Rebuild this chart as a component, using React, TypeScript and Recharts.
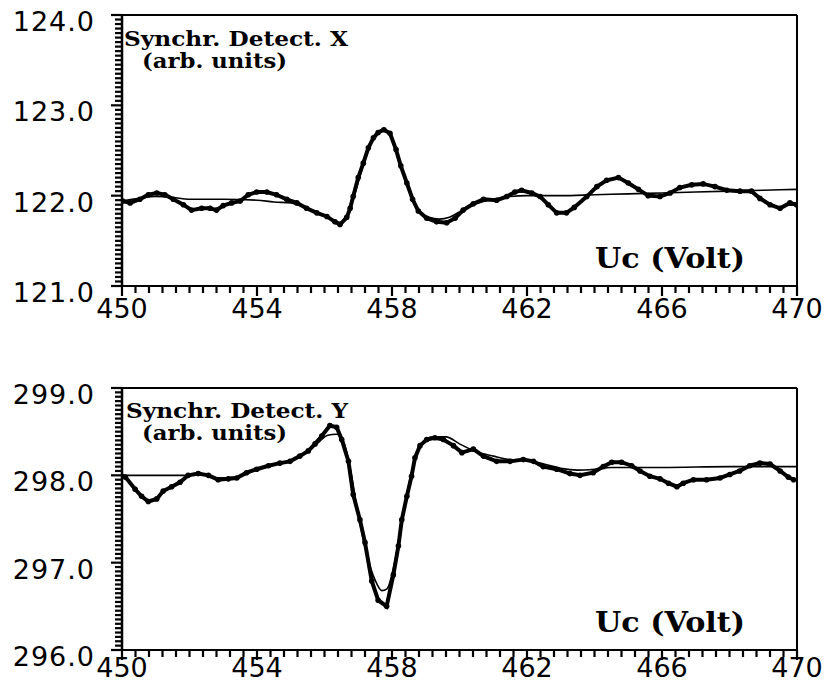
import { LineChart, Line, XAxis, YAxis, ReferenceLine } from 'recharts';

// tick labels
const VOLT_MAJOR = [450, 454, 458, 462, 466, 470];
const X_MAJOR = [121, 122, 123, 124];
const Y_MAJOR = [296, 297, 298, 299];

// Synchr. Detect. X, measured points (Uc in volt, signal)
const xMeasured = [
  { u: 450.02, v: 121.94 }, { u: 450.24, v: 121.92 }, { u: 450.53, v: 121.96 },
  { u: 450.78, v: 122.01 }, { u: 451.03, v: 122.03 }, { u: 451.27, v: 122.01 },
  { u: 451.52, v: 121.96 }, { u: 451.82, v: 121.9 }, { u: 452.06, v: 121.84 },
  { u: 452.36, v: 121.86 }, { u: 452.61, v: 121.86 }, { u: 452.8, v: 121.84 },
  { u: 453.0, v: 121.89 }, { u: 453.25, v: 121.92 }, { u: 453.5, v: 121.94 },
  { u: 453.74, v: 122.01 }, { u: 453.99, v: 122.04 }, { u: 454.29, v: 122.04 },
  { u: 454.58, v: 122.01 }, { u: 454.88, v: 121.96 }, { u: 455.18, v: 121.92 },
  { u: 455.47, v: 121.86 }, { u: 455.77, v: 121.81 }, { u: 456.07, v: 121.77 },
  { u: 456.31, v: 121.71 }, { u: 456.46, v: 121.68 }, { u: 456.66, v: 121.76 },
  { u: 456.76, v: 121.86 }, { u: 456.85, v: 121.99 }, { u: 457.0, v: 122.2 },
  { u: 457.15, v: 122.36 }, { u: 457.3, v: 122.53 }, { u: 457.45, v: 122.64 },
  { u: 457.59, v: 122.7 }, { u: 457.76, v: 122.73 }, { u: 457.94, v: 122.69 },
  { u: 458.12, v: 122.51 }, { u: 458.26, v: 122.33 }, { u: 458.44, v: 122.14 },
  { u: 458.61, v: 121.96 }, { u: 458.78, v: 121.83 }, { u: 459.03, v: 121.75 },
  { u: 459.32, v: 121.71 }, { u: 459.62, v: 121.7 }, { u: 459.87, v: 121.75 },
  { u: 460.11, v: 121.84 }, { u: 460.41, v: 121.91 }, { u: 460.71, v: 121.96 },
  { u: 461.1, v: 121.95 }, { u: 461.4, v: 121.99 }, { u: 461.64, v: 122.04 },
  { u: 461.84, v: 122.06 }, { u: 462.14, v: 122.03 }, { u: 462.39, v: 121.99 },
  { u: 462.63, v: 121.9 }, { u: 462.88, v: 121.81 }, { u: 463.17, v: 121.81 },
  { u: 463.4, v: 121.87 }, { u: 463.77, v: 121.99 }, { u: 464.07, v: 122.1 },
  { u: 464.36, v: 122.17 }, { u: 464.71, v: 122.2 }, { u: 465.0, v: 122.14 },
  { u: 465.3, v: 122.07 }, { u: 465.59, v: 122.0 }, { u: 465.94, v: 121.99 },
  { u: 466.24, v: 122.03 }, { u: 466.53, v: 122.09 }, { u: 466.88, v: 122.12 },
  { u: 467.22, v: 122.13 }, { u: 467.57, v: 122.1 }, { u: 467.92, v: 122.06 },
  { u: 468.31, v: 122.05 }, { u: 468.65, v: 122.05 }, { u: 468.9, v: 121.97 },
  { u: 469.2, v: 121.9 }, { u: 469.5, v: 121.86 }, { u: 469.79, v: 121.92 },
  { u: 469.99, v: 121.9 },
];

// Synchr. Detect. X, fitted curve
const xFit = [
  { u: 450, v: 121.94 }, { u: 450.5, v: 121.97 }, { u: 451, v: 121.99 },
  { u: 451.5, v: 121.98 }, { u: 452, v: 121.96 }, { u: 453, v: 121.96 },
  { u: 454, v: 121.95 }, { u: 454.5, v: 121.93 }, { u: 455, v: 121.92 },
  { u: 455.5, v: 121.86 }, { u: 456, v: 121.78 }, { u: 456.3, v: 121.72 },
  { u: 456.5, v: 121.7 }, { u: 456.7, v: 121.8 }, { u: 456.9, v: 122.02 },
  { u: 457.1, v: 122.28 }, { u: 457.3, v: 122.52 }, { u: 457.5, v: 122.67 },
  { u: 457.75, v: 122.73 }, { u: 458.0, v: 122.64 }, { u: 458.2, v: 122.42 },
  { u: 458.4, v: 122.18 }, { u: 458.6, v: 121.97 }, { u: 458.8, v: 121.84 },
  { u: 459.1, v: 121.76 }, { u: 459.4, v: 121.74 }, { u: 459.7, v: 121.76 },
  { u: 460.0, v: 121.82 }, { u: 460.5, v: 121.91 }, { u: 461, v: 121.96 },
  { u: 461.5, v: 121.99 }, { u: 462, v: 122.0 }, { u: 463, v: 122.0 },
  { u: 464, v: 122.01 }, { u: 465, v: 122.02 }, { u: 466, v: 122.03 },
  { u: 467, v: 122.04 }, { u: 468, v: 122.05 }, { u: 469, v: 122.06 },
  { u: 470, v: 122.07 },
];

// Synchr. Detect. Y, measured points
const yMeasured = [
  { u: 450.0, v: 297.99 }, { u: 450.1, v: 297.98 }, { u: 450.39, v: 297.84 },
  { u: 450.58, v: 297.76 }, { u: 450.78, v: 297.7 }, { u: 451.03, v: 297.73 },
  { u: 451.22, v: 297.82 }, { u: 451.47, v: 297.87 }, { u: 451.72, v: 297.92 },
  { u: 451.96, v: 298.0 }, { u: 452.26, v: 298.02 }, { u: 452.56, v: 298.0 },
  { u: 452.85, v: 297.95 }, { u: 453.15, v: 297.96 }, { u: 453.4, v: 297.97 },
  { u: 453.69, v: 298.03 }, { u: 453.99, v: 298.07 }, { u: 454.34, v: 298.11 },
  { u: 454.68, v: 298.14 }, { u: 454.98, v: 298.16 }, { u: 455.27, v: 298.22 },
  { u: 455.52, v: 298.28 }, { u: 455.72, v: 298.36 }, { u: 455.92, v: 298.45 },
  { u: 456.16, v: 298.57 }, { u: 456.36, v: 298.55 }, { u: 456.51, v: 298.41 },
  { u: 456.71, v: 298.16 }, { u: 456.85, v: 297.78 }, { u: 457.05, v: 297.49 },
  { u: 457.2, v: 297.23 }, { u: 457.4, v: 296.79 }, { u: 457.59, v: 296.57 },
  { u: 457.84, v: 296.5 }, { u: 458.04, v: 296.86 }, { u: 458.19, v: 297.19 },
  { u: 458.29, v: 297.49 }, { u: 458.44, v: 297.76 }, { u: 458.58, v: 297.99 },
  { u: 458.68, v: 298.2 }, { u: 458.83, v: 298.34 }, { u: 459.03, v: 298.41 },
  { u: 459.27, v: 298.43 }, { u: 459.52, v: 298.41 }, { u: 459.82, v: 298.34 },
  { u: 460.07, v: 298.26 }, { u: 460.41, v: 298.3 }, { u: 460.71, v: 298.22 },
  { u: 461.1, v: 298.16 }, { u: 461.5, v: 298.16 }, { u: 461.89, v: 298.18 },
  { u: 462.19, v: 298.16 }, { u: 462.48, v: 298.1 }, { u: 462.88, v: 298.07 },
  { u: 463.27, v: 298.02 }, { u: 463.57, v: 298.0 }, { u: 463.96, v: 298.03 },
  { u: 464.26, v: 298.1 }, { u: 464.51, v: 298.15 }, { u: 464.8, v: 298.15 },
  { u: 465.1, v: 298.11 }, { u: 465.35, v: 298.05 }, { u: 465.64, v: 297.99 },
  { u: 465.94, v: 297.96 }, { u: 466.19, v: 297.91 }, { u: 466.44, v: 297.87 },
  { u: 466.63, v: 297.91 }, { u: 466.93, v: 297.95 }, { u: 467.32, v: 297.95 },
  { u: 467.72, v: 297.97 }, { u: 468.01, v: 298.01 }, { u: 468.3, v: 298.05 },
  { u: 468.6, v: 298.11 }, { u: 468.9, v: 298.14 }, { u: 469.2, v: 298.13 },
  { u: 469.5, v: 298.05 }, { u: 469.74, v: 297.98 }, { u: 469.9, v: 297.95 },
];

// Synchr. Detect. Y, fitted curve
const yFit = [
  { u: 450, v: 298.0 }, { u: 451, v: 298.0 }, { u: 451.9, v: 298.0 },
  { u: 452.3, v: 298.02 }, { u: 452.8, v: 297.97 }, { u: 453.4, v: 297.98 },
  { u: 454, v: 298.07 }, { u: 454.7, v: 298.14 }, { u: 455.3, v: 298.22 },
  { u: 455.8, v: 298.37 }, { u: 456.1, v: 298.46 }, { u: 456.35, v: 298.47 },
  { u: 456.55, v: 298.4 }, { u: 456.75, v: 298.1 }, { u: 457.0, v: 297.55 },
  { u: 457.25, v: 297.1 }, { u: 457.5, v: 296.8 }, { u: 457.7, v: 296.68 },
  { u: 457.85, v: 296.7 }, { u: 458.05, v: 296.95 }, { u: 458.3, v: 297.5 },
  { u: 458.5, v: 297.9 }, { u: 458.7, v: 298.2 }, { u: 458.9, v: 298.36 },
  { u: 459.2, v: 298.44 }, { u: 459.6, v: 298.44 }, { u: 460, v: 298.36 },
  { u: 460.5, v: 298.27 }, { u: 461, v: 298.22 }, { u: 461.5, v: 298.18 },
  { u: 462, v: 298.17 }, { u: 462.5, v: 298.13 }, { u: 463, v: 298.08 },
  { u: 463.5, v: 298.06 }, { u: 464, v: 298.07 }, { u: 464.5, v: 298.09 },
  { u: 466, v: 298.09 }, { u: 468, v: 298.1 }, { u: 470, v: 298.1 },
];

const steps = (from: number, to: number, step: number) => {
  const out: number[] = [];
  const n = Math.round((to - from) / step);
  for (let i = 0; i <= n; i++) out.push(Number((from + i * step).toFixed(3)));
  return out;
};

const isMajor = (v: number, major: number[]) =>
  major.some((m) => Math.abs(m - v) < 1e-6);

const FONT = "'DejaVu Sans', sans-serif";
const LABEL_FONT = "'DejaVu Serif', serif";
const X_TICKS = steps(450, 470, 0.4);

// tick mark + label; x/y arrive on the axis line (tickSize and tickMargin are 0)
const XTick = ({ x, y, payload, labelDy }: any) => {
  const major = isMajor(payload.value, VOLT_MAJOR);
  const px = Number(x);
  const py = Number(y);
  return (
    <g>
      <rect x={px - 1.1} y={py} width={2.2} height={major ? 10 : 7} fill="#000" />
      {major && (
        <text x={px} y={py + labelDy} textAnchor="middle" fontSize={27} fontFamily={FONT} fill="#000">
          {payload.value}
        </text>
      )}
    </g>
  );
};

const YTick = ({ x, y, payload, major }: any) => {
  const isM = isMajor(payload.value, major);
  const px = Number(x);
  const py = Number(y);
  const len = isM ? 11 : 7;
  return (
    <g>
      <rect x={px - len} y={py - 1.1} width={len} height={2.2} fill="#000" />
      {isM && (
        <text x={px - 27} y={py + 16} textAnchor="end" fontSize={27} fontFamily={FONT} fill="#000" letterSpacing={1}>
          {payload.value.toFixed(1)}
        </text>
      )}
    </g>
  );
};

interface PanelProps {
  height: number;
  marginTop: number;
  axisHeight: number;
  yMajor: number[];
  measured: { u: number; v: number }[];
  fit: { u: number; v: number }[];
  labelDy: number;
}

const Panel = ({ height, marginTop, axisHeight, yMajor, measured, fit, labelDy }: PanelProps) => {
  const yMin = yMajor[0];
  const yMax = yMajor[yMajor.length - 1];
  return (
    <LineChart width={829} height={height} margin={{ top: marginTop, right: 32, left: 0, bottom: 0 }}>
      <XAxis
        type="number"
        dataKey="u"
        domain={[450, 470]}
        ticks={X_TICKS}
        interval={0}
        allowDataOverflow
        height={axisHeight}
        tickSize={0}
        tickMargin={0}
        tickLine={false}
        axisLine={{ stroke: '#000', strokeWidth: 2 }}
        tick={(p: any) => <XTick {...p} labelDy={labelDy} />}
      />
      <YAxis
        type="number"
        dataKey="v"
        domain={[yMin, yMax]}
        ticks={steps(yMin, yMax, 0.05)}
        interval={0}
        allowDataOverflow
        width={122}
        tickSize={0}
        tickMargin={0}
        tickLine={false}
        axisLine={{ stroke: '#000', strokeWidth: 2.5 }}
        tick={(p: any) => <YTick {...p} major={yMajor} />}
      />
      <ReferenceLine y={yMax} stroke="#000" strokeWidth={2} />
      <ReferenceLine x={470} stroke="#000" strokeWidth={2} />
      <Line
        data={fit}
        dataKey="v"
        type="monotone"
        stroke="#000"
        strokeWidth={1.6}
        dot={false}
        isAnimationActive={false}
      />
      <Line
        data={measured}
        dataKey="v"
        type="linear"
        stroke="#000"
        strokeWidth={4}
        dot={{ r: 2.8, fill: '#000', stroke: '#000', strokeWidth: 0 }}
        isAnimationActive={false}
      />
    </LineChart>
  );
};

const Caption = ({ x, y, w, size, children }: any) => (
  <text
    x={x}
    y={y}
    textLength={w}
    lengthAdjust="spacingAndGlyphs"
    fontSize={size}
    fontWeight="bold"
    fontFamily={LABEL_FONT}
    fill="#000"
  >
    {children}
  </text>
);

export default function App() {
  return (
    <div style={{ position: 'absolute', left: 0, top: 0, width: 829, height: 693, background: '#fff' }}>
      <div style={{ position: 'relative', width: 829, height: 345 }}>
        <Panel height={345} marginTop={15} axisHeight={59} yMajor={X_MAJOR} measured={xMeasured} fit={xFit} labelDy={32} />
        <svg width={829} height={345} style={{ position: 'absolute', left: 0, top: 0, pointerEvents: 'none' }}>
          <Caption x={124} y={46} w={224} size={20}>Synchr. Detect. X</Caption>
          <Caption x={142} y={68} w={145} size={20}>(arb. units)</Caption>
          <Caption x={595} y={268} w={150} size={28}>Uc (Volt)</Caption>
        </svg>
      </div>
      <div style={{ position: 'relative', width: 829, height: 348 }}>
        <Panel height={348} marginTop={43} axisHeight={43} yMajor={Y_MAJOR} measured={yMeasured} fit={yFit} labelDy={27} />
        <svg width={829} height={348} style={{ position: 'absolute', left: 0, top: 0, pointerEvents: 'none' }}>
          <Caption x={126} y={73} w={222} size={20}>Synchr. Detect. Y</Caption>
          <Caption x={142} y={95} w={145} size={20}>(arb. units)</Caption>
          <Caption x={595} y={287} w={150} size={28}>Uc (Volt)</Caption>
        </svg>
      </div>
    </div>
  );
}
